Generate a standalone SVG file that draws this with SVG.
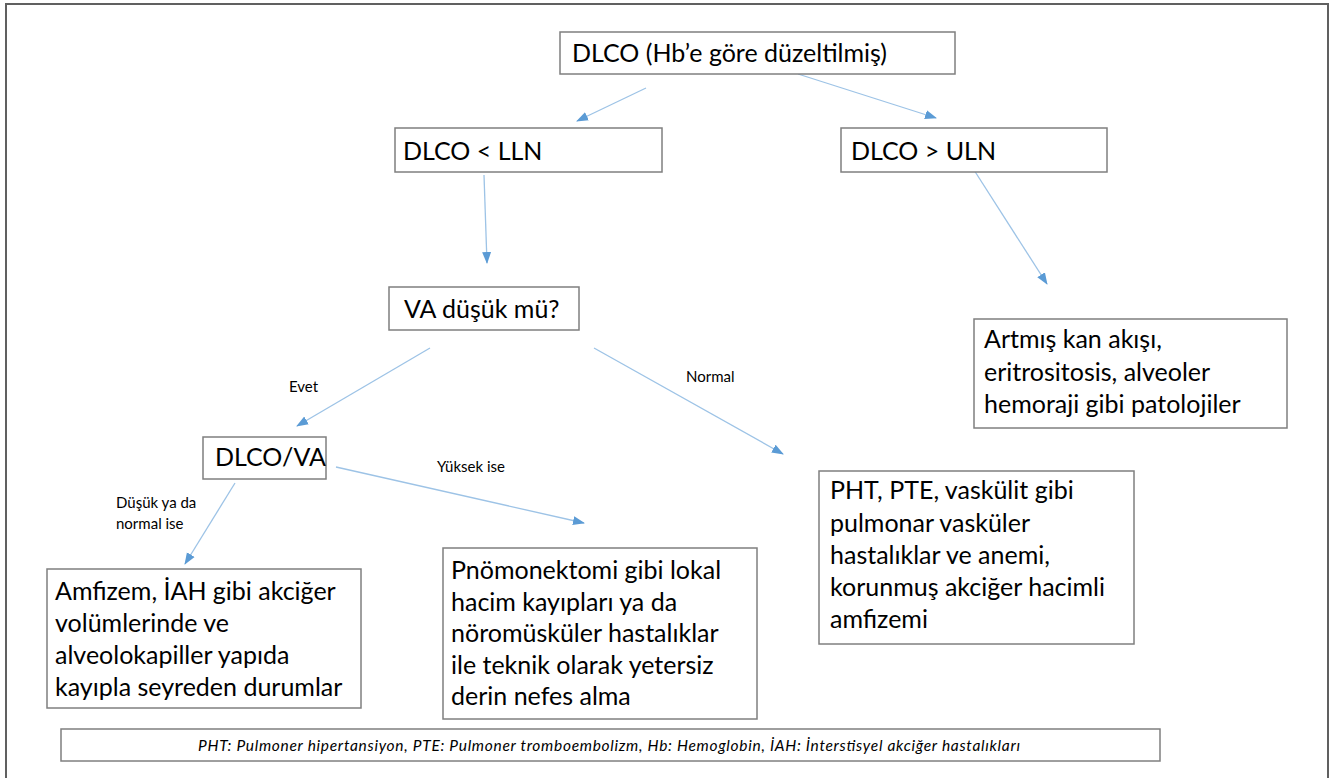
<svg xmlns="http://www.w3.org/2000/svg" width="1330" height="778" viewBox="0 0 1330 778">
<defs>
<style>
.box{fill:#ffffff;stroke:#7f7f7f;stroke-width:1.5}
.t{font-family:Lato,"Open Sans","Liberation Sans",sans-serif;font-size:25px;fill:#000000}
.s{font-family:Lato,"Open Sans","Liberation Sans",sans-serif;font-size:15px;fill:#000000}
.f{font-family:Lato,"Open Sans","Liberation Sans",sans-serif;font-size:15.5px;font-style:italic;fill:#000000}
.c{fill:none;stroke:#9dc3e6;stroke-width:1.3;marker-end:url(#ah)}
</style>
<marker id="ah" markerUnits="userSpaceOnUse" markerWidth="12" markerHeight="10" refX="11" refY="4.5" orient="auto" viewBox="0 0 12 9">
<path d="M0,0 L12,4.5 L0,9 z" fill="#5b9bd5"/>
</marker>
</defs>
<rect x="0" y="0" width="1330" height="778" fill="#ffffff"/>
<rect x="6" y="4" width="1322" height="800" fill="none" stroke="#606060" stroke-width="2"/>

<g id="connectors">
<line class="c" x1="646" y1="88" x2="577" y2="121"/>
<line class="c" x1="798" y1="74" x2="936" y2="118"/>
<line class="c" x1="484" y1="175" x2="487" y2="263"/>
<line class="c" x1="974" y1="170" x2="1047" y2="284"/>
<line class="c" x1="430" y1="348" x2="297" y2="426"/>
<line class="c" x1="594" y1="348" x2="783" y2="454"/>
<line class="c" x1="336" y1="467" x2="584" y2="523"/>
<line class="c" x1="235" y1="483" x2="185" y2="564"/>
</g>

<g id="labels">
<text class="s" x="289" y="392">Evet</text>
<text class="s" x="686" y="382">Normal</text>
<text class="s" x="437" y="472">Yüksek ise</text>
<text class="s" x="116" y="508">Düşük ya da</text>
<text class="s" x="116" y="529">normal ise</text>
</g>

<g id="n-root">
<rect class="box" x="560" y="32" width="395" height="42"/>
<text class="t" x="572" y="62">DLCO (Hb’e göre düzeltilmiş)</text>
</g>
<g id="n-low">
<rect class="box" x="395" y="128" width="267" height="44"/>
<text class="t" x="403" y="160">DLCO &lt; LLN</text>
</g>
<g id="n-high">
<rect class="box" x="841" y="128" width="266" height="44"/>
<text class="t" x="851" y="160">DLCO &gt; ULN</text>
</g>
<g id="n-va">
<rect class="box" x="389" y="287" width="190" height="43"/>
<text class="t" x="404" y="318">VA düşük mü?</text>
</g>
<g id="n-dlcova">
<rect class="box" x="203" y="437" width="123" height="42"/>
<text class="t" x="215" y="466">DLCO/VA</text>
</g>
<g id="n-artmis">
<rect class="box" x="974" y="319" width="313" height="109"/>
<text class="t" x="984" y="348">Artmış kan akışı,</text>
<text class="t" x="984" y="381">eritrositosis, alveoler</text>
<text class="t" x="984" y="413">hemoraji gibi patolojiler</text>
</g>
<g id="n-pht">
<rect class="box" x="819" y="471" width="315" height="173"/>
<text class="t" x="830" y="499">PHT, PTE, vaskülit gibi</text>
<text class="t" x="830" y="532">pulmonar vasküler</text>
<text class="t" x="830" y="564">hastalıklar ve anemi,</text>
<text class="t" x="830" y="596">korunmuş akciğer hacimli</text>
<text class="t" x="830" y="628">amfizemi</text>
</g>
<g id="n-amfizem">
<rect class="box" x="47" y="569" width="314" height="139"/>
<text class="t" x="55" y="600">Amfizem, İAH gibi akciğer</text>
<text class="t" x="55" y="632">volümlerinde ve</text>
<text class="t" x="55" y="664">alveolokapiller yapıda</text>
<text class="t" x="55" y="696">kayıpla seyreden durumlar</text>
</g>
<g id="n-pnomo">
<rect class="box" x="443" y="548" width="314" height="171"/>
<text class="t" x="451" y="579">Pnömonektomi gibi lokal</text>
<text class="t" x="451" y="611">hacim kayıpları ya da</text>
<text class="t" x="451" y="642">nöromüsküler hastalıklar</text>
<text class="t" x="451" y="674">ile teknik olarak yetersiz</text>
<text class="t" x="451" y="705">derin nefes alma</text>
</g>
<g id="n-footnote">
<rect class="box" x="61" y="729" width="1099" height="32"/>
<text class="f" x="198" y="751" textLength="822" lengthAdjust="spacing">PHT: Pulmoner hipertansiyon, PTE: Pulmoner tromboembolizm, Hb: Hemoglobin, İAH: İnterstisyel akciğer hastalıkları</text>
</g>
</svg>
